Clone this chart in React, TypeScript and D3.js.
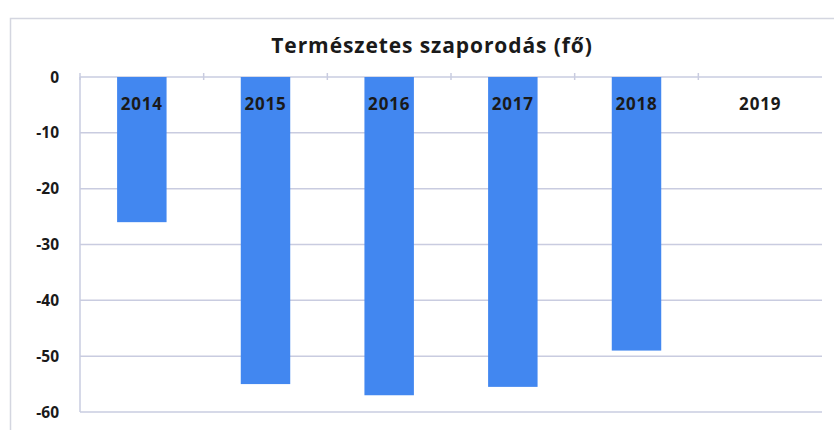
import React from "react";
import * as d3 from "d3";

const categories = ["2014", "2015", "2016", "2017", "2018", "2019"];
const values: (number | null)[] = [-26, -55, -57, -55.5, -49, null];
const yTicks = [0, -10, -20, -30, -40, -50, -60];
const title = "Természetes szaporodás (fő)";

export default function App() {
  const W = 834, H = 430;
  const left = 80, right = 822, top = 77, bottom = 412;
  const x = d3.scaleBand<string>().domain(categories).range([left, right]).paddingInner(0.6).paddingOuter(0.3);
  const y = d3.scaleLinear().domain([-60, 0]).range([bottom, top]);
  const step = x.step();
  const font = "'Open Sans', 'Liberation Sans', sans-serif";
  return (
    <svg width={W} height={H} style={{ position: "absolute", left: 0, top: 0, background: "#fff" }}>
      <rect x={10.5} y={18.5} width={840} height={430} fill="none" stroke="#d4d6e0" strokeWidth={1.5} />
      <text x={432} y={53} textAnchor="middle" fontFamily={font} fontWeight={700} fontSize={21} letterSpacing={0.9} fill="#1a1a1a">{title}</text>
      {yTicks.map((t) => (
        <g key={t}>
          <line x1={left} x2={right} y1={y(t)} y2={y(t)} stroke="#c9cce0" strokeWidth={1.5} />
          <text x={59} y={y(t)} dy="0.36em" textAnchor="end" fontFamily={font} fontWeight={700} fontSize={15.5} fill="#1a1a1a">{t}</text>
        </g>
      ))}
      <line x1={left} x2={left} y1={top} y2={bottom} stroke="#c9cce0" strokeWidth={1.5} />
      {categories.map((c, i) => (
        <line key={"tk" + c} x1={left + step * i} x2={left + step * i} y1={y(0) - 4} y2={y(0) + 3} stroke="#c9cce0" strokeWidth={1.5} />
      ))}
      {categories.map((c, i) => {
        const v = values[i];
        if (v == null) return null;
        return <rect key={"b" + c} x={x(c)!} width={x.bandwidth()} y={y(0)} height={y(v) - y(0)} fill="#4287f0" />;
      })}
      {categories.map((c) => (
        <text key={"l" + c} x={x(c)! + x.bandwidth() / 2} y={110} textAnchor="middle" fontFamily={font} fontWeight={700} fontSize={17} letterSpacing={0.8} fill="#1a1a1a">{c}</text>
      ))}
    </svg>
  );
}
